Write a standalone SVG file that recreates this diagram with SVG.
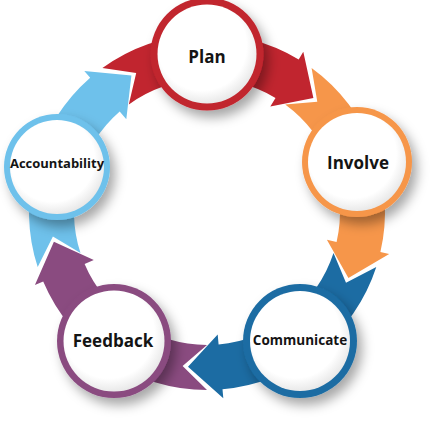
<svg xmlns="http://www.w3.org/2000/svg" width="440" height="425" viewBox="0 0 440 425">
  <defs>
    <filter id="shadow" x="-30%" y="-30%" width="170%" height="170%">
      <feDropShadow dx="5" dy="7" stdDeviation="6" flood-color="#000" flood-opacity="0.35"/>
    </filter>
    <radialGradient id="face" cx="0.45" cy="0.42" r="0.6">
      <stop offset="0.75" stop-color="#ffffff"/>
      <stop offset="1" stop-color="#e6e6e6"/>
    </radialGradient>
    <style>
      .face { fill: url(#face); }
      .ring { filter: url(#shadow); }
      .lbl { font-family: "Open Sans", "Liberation Sans", sans-serif; font-weight: 700; fill: #141414; text-anchor: middle; }
    </style>
  </defs>
  <rect width="440" height="425" fill="#ffffff"/>

  <g id="connectors">
    <path id="arrow-plan" fill="#C1252F" d="M102.4,68 A178,178 0 0 1 298.7,59.4 L303.3,51.7 L313.4,97.9 L270.3,106.6 L275.5,98 A133,133 0 0 0 128.8,104.4 L136.2,73 Z"/>
    <path id="arrow-involve" fill="#F6964A" d="M311.6,68 A178,178 0 0 1 380.4,252.1 L389.2,254.1 L348.4,277.9 L326.9,239.7 L336.6,241.9 A133,133 0 0 0 285.2,104.4 L317.3,101.7 Z"/>
    <path id="arrow-communicate" fill="#1C6CA3" d="M376.3,267 A178,178 0 0 1 222.5,389.3 L223.3,398.3 L188,366.8 L217.7,334.5 L218.6,344.5 A133,133 0 0 0 333.5,253.1 L346,282.8 Z"/>
    <path id="arrow-feedback" fill="#8A4B80" d="M207,390 A178,178 0 0 1 43.2,281.5 L34.9,285.1 L53.9,241.8 L93.8,260.1 L84.6,264 A133,133 0 0 0 207,345 L182.6,366.1 Z"/>
    <path id="arrow-accountability" fill="#6EC1EB" d="M37.7,267 A178,178 0 0 1 90.2,77.7 L84.3,70.9 L131.4,75.6 L126.3,119.2 L119.7,111.6 A133,133 0 0 0 80.5,253.1 L52.9,236.4 Z"/>
  </g>

  <g id="node-plan">
    <circle class="ring" cx="207" cy="54" r="56.5" fill="#C1252F"/>
    <circle class="face" cx="207" cy="54" r="49.5"/>
    <text class="lbl" x="207" y="63" font-size="17">Plan</text>
  </g>
  <g id="node-involve">
    <circle class="ring" cx="357" cy="162" r="55" fill="#F6964A"/>
    <circle class="face" cx="357" cy="162" r="49"/>
    <text class="lbl" x="358" y="169" font-size="17">Involve</text>
  </g>
  <g id="node-communicate">
    <circle class="ring" cx="300" cy="341" r="57" fill="#1C6CA3"/>
    <circle class="face" cx="300" cy="341" r="50"/>
    <text class="lbl" x="300" y="345" font-size="13.5">Communicate</text>
  </g>
  <g id="node-feedback">
    <circle class="ring" cx="114" cy="341" r="57" fill="#8A4B80"/>
    <circle class="face" cx="114" cy="341" r="50.5"/>
    <text class="lbl" x="113" y="347" font-size="17">Feedback</text>
  </g>
  <g id="node-accountability">
    <circle class="ring" cx="57" cy="167" r="53" fill="#6EC1EB"/>
    <circle class="face" cx="57" cy="167" r="47"/>
    <text class="lbl" x="57" y="168" font-size="13">Accountability</text>
  </g>
</svg>
